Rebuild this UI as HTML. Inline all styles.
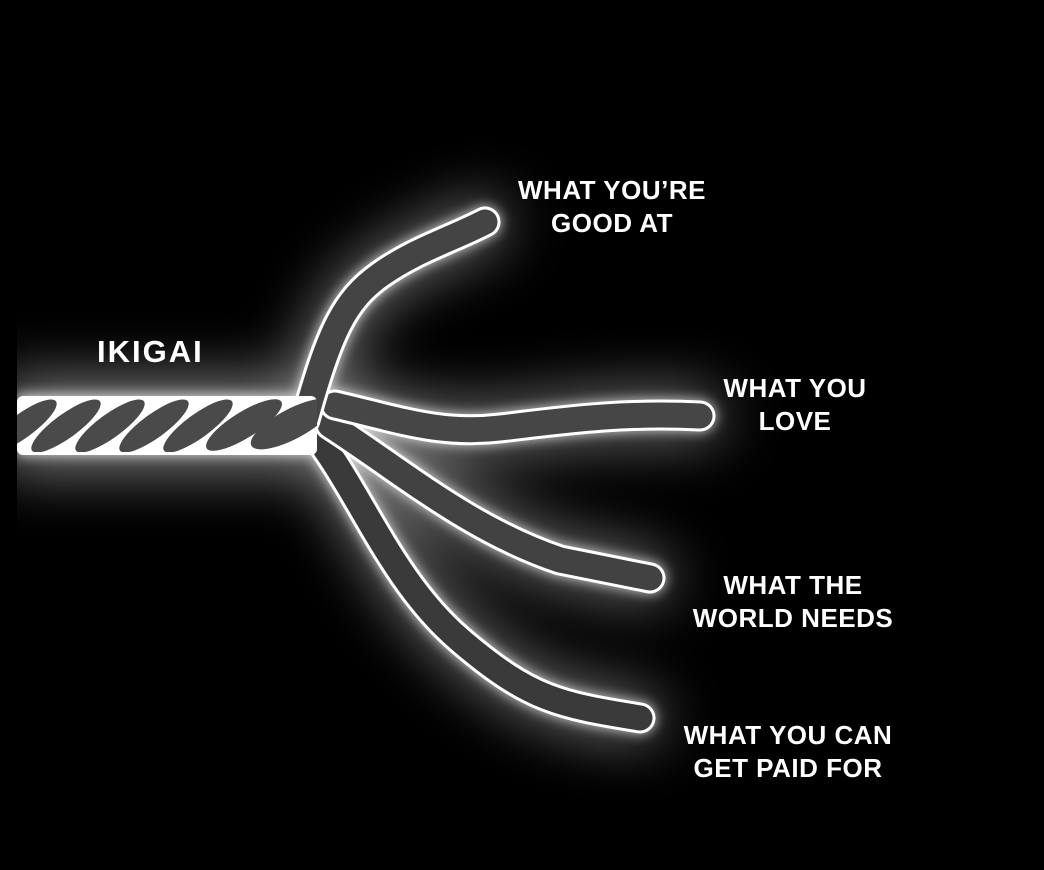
<!DOCTYPE html>
<html><head><meta charset="utf-8"><style>
html,body{margin:0;padding:0;background:#000;}
body{width:1044px;height:870px;overflow:hidden;position:relative;}
svg{position:absolute;left:0;top:0;}
.t{position:absolute;color:#fff;font-family:"Liberation Sans",sans-serif;font-weight:bold;font-size:26px;line-height:33px;text-align:center;white-space:nowrap;letter-spacing:0.5px;}
</style></head><body>
<svg width="1044" height="870" viewBox="0 0 1044 870">
<defs>
<filter id="g1" x="-50%" y="-50%" width="200%" height="200%"><feGaussianBlur stdDeviation="30"/></filter>
<filter id="g2" x="-50%" y="-50%" width="200%" height="200%"><feGaussianBlur stdDeviation="6"/></filter>
<clipPath id="cl"><rect x="17" y="0" width="1044" height="870"/></clipPath>
<clipPath id="rc"><rect x="17" y="399" width="300" height="53"/></clipPath>
</defs>
<g clip-path="url(#cl)">
<g filter="url(#g1)" opacity="0.5" fill="none" stroke="#fff" stroke-linecap="round">
<rect x="0" y="380" width="320" height="90" fill="#fff" stroke="none"/>
<path d="M310 405 C330 330 345 300 380 275 S450 240 485 222" stroke-width="44"/>
<path d="M335 405 C400 420 440 435 500 428 S620 412 700 416" stroke-width="44"/>
<path d="M330 425 C400 470 470 530 560 560 L650 578" stroke-width="44"/>
<path d="M310 428 C360 490 390 580 460 640 S560 705 640 718" stroke-width="44"/>
</g>
<g filter="url(#g2)" opacity="0.7" fill="none" stroke="#fff" stroke-linecap="round">
<rect x="17" y="394" width="300" height="62" fill="#fff" stroke="none"/>
<path d="M305 420 C330 330 345 300 380 275 S450 240 485 222" stroke-width="32"/>
<path d="M335 405 C400 420 440 435 500 428 S620 412 700 416" stroke-width="32"/>
<path d="M330 425 C400 470 470 530 560 560 L650 578" stroke-width="32"/>
<path d="M310 428 C360 490 390 580 460 640 S560 705 640 718" stroke-width="32"/>
</g>
<g fill="none" stroke-linecap="round">
<path d="M310 428 C360 490 390 580 460 640 S560 705 640 718" stroke="#fff" stroke-width="31"/>
<path d="M310 428 C360 490 390 580 460 640 S560 705 640 718" stroke="#3a3a3a" stroke-width="25"/>
<path d="M330 425 C400 470 470 530 560 560 L650 578" stroke="#fff" stroke-width="31"/>
<path d="M330 425 C400 470 470 530 560 560 L650 578" stroke="#424242" stroke-width="25"/>
<path d="M335 405 C400 420 440 435 500 428 S620 412 700 416" stroke="#fff" stroke-width="31"/>
<path d="M335 405 C400 420 440 435 500 428 S620 412 700 416" stroke="#464646" stroke-width="25"/>
<path d="M305 420 C330 330 345 300 380 275 S450 240 485 222" stroke="#fff" stroke-width="31"/>
<path d="M305 420 C330 330 345 300 380 275 S450 240 485 222" stroke="#444" stroke-width="25"/>
</g>
<rect x="17" y="396" width="300" height="59" rx="6" fill="#fff"/>
<g clip-path="url(#rc)" fill="#4a4a4a">
<ellipse cx="22" cy="426" rx="42" ry="12" transform="rotate(-36 22 426)"/>
<ellipse cx="66" cy="426" rx="42" ry="12" transform="rotate(-36 66 426)"/>
<ellipse cx="110" cy="426" rx="42" ry="12" transform="rotate(-36 110 426)"/>
<ellipse cx="154" cy="426" rx="42" ry="12" transform="rotate(-36 154 426)"/>
<ellipse cx="198" cy="426" rx="42" ry="12" transform="rotate(-36 198 426)"/>
<ellipse cx="244" cy="425" rx="44" ry="13" transform="rotate(-32 244 425)"/>
<ellipse cx="292" cy="424" rx="46" ry="15" transform="rotate(-28 292 424)"/>
</g>
</g>
</svg>
<div class="t" style="left:97px;top:335px;font-size:31px;letter-spacing:2px;">IKIGAI</div>
<div class="t" style="left:492px;top:174px;width:240px;">WHAT YOU’RE<br>GOOD AT</div>
<div class="t" style="left:675px;top:372px;width:240px;">WHAT YOU<br>LOVE</div>
<div class="t" style="left:653px;top:569px;width:280px;">WHAT THE<br>WORLD NEEDS</div>
<div class="t" style="left:648px;top:719px;width:280px;">WHAT YOU CAN<br>GET PAID FOR</div>
</body></html>
